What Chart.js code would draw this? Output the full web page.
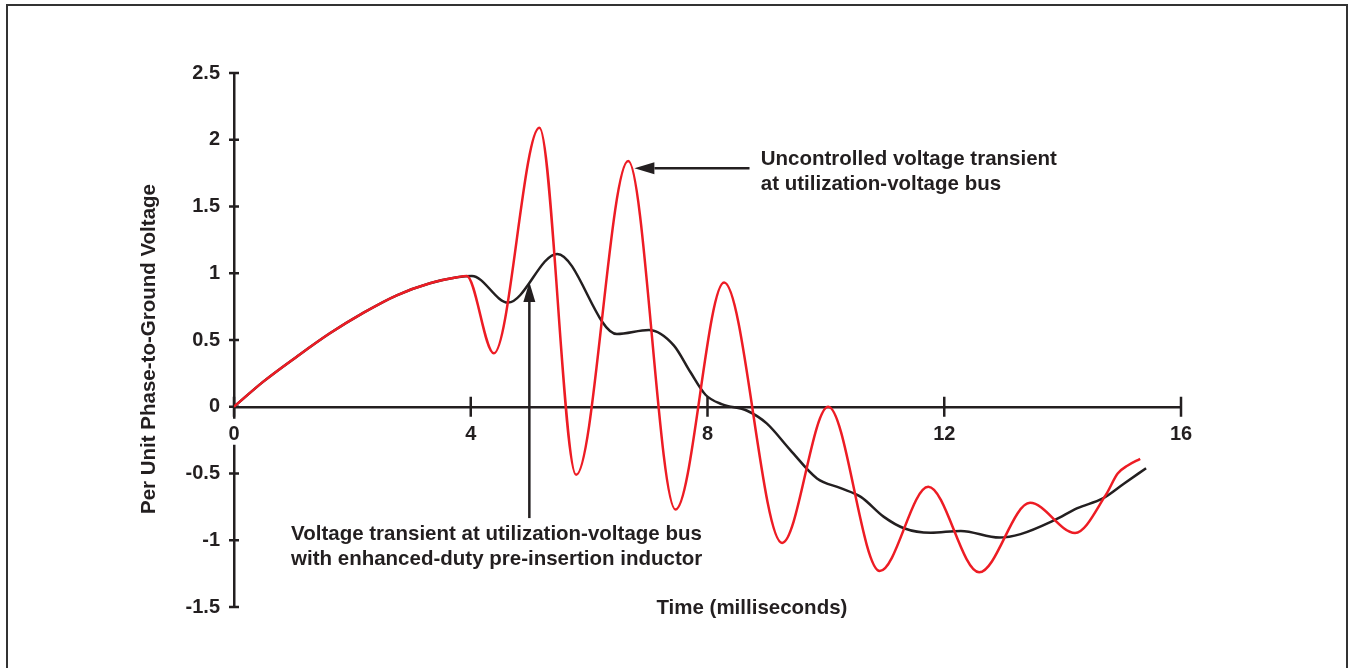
<!DOCTYPE html>
<html>
<head>
<meta charset="utf-8">
<title>Voltage transient</title>
<script src="https://cdn.jsdelivr.net/npm/chart.js@4.4.0/dist/chart.umd.min.js"></script>
<style>
  html, body { margin: 0; padding: 0; background: #fff; overflow: hidden; }
  .wrap { position: absolute; left: 0; top: 0; width: 1353px; height: 668px; }
  .frame { position: absolute; left: 6px; top: 4px; width: 1342px; height: 720px;
           border: 2.5px solid #333; box-sizing: border-box; }
</style>
</head>
<body>
<div class="frame"></div>
<div class="wrap"><canvas id="chart"></canvas></div>
<script>
// uncontrolled transient (red), time in ms / per unit voltage
const redTime  = [0, 0.5, 1.06, 1.62, 2.19, 2.75, 3.31, 3.77, 3.93, 4.39, 5.16, 5.78, 6.66, 7.46,
                  8.28, 9.26, 10.04, 10.91, 11.73, 12.59, 13.45, 14.21, 14.73, 14.93, 15.10, 15.31];
const redVolts = [0, 0.19, 0.375, 0.55, 0.705, 0.835, 0.925, 0.97, 0.98, 0.40, 2.09, -0.51, 1.84, -0.77,
                  0.93, -1.02, 0.0, -1.23, -0.60, -1.24, -0.72, -0.945, -0.66, -0.50, -0.44, -0.39];

// with enhanced-duty pre-insertion inductor (black)
const blackTime  = [0, 0.5, 1.06, 1.62, 2.19, 2.75, 3.31, 3.77, 4.02, 4.63, 5.46, 6.47, 7.01, 7.43,
                    7.71, 7.97, 8.25, 8.67, 9.0, 9.4, 9.85, 10.25, 10.59, 10.98, 11.32, 11.77,
                    12.28, 12.93, 13.29, 13.86, 14.25, 14.68, 15.04, 15.41];
const blackVolts = [0, 0.19, 0.375, 0.55, 0.705, 0.835, 0.925, 0.97, 0.98, 0.78, 1.145, 0.545, 0.575, 0.46,
                    0.26, 0.088, 0.018, -0.03, -0.125, -0.325, -0.537, -0.61, -0.675, -0.825, -0.91, -0.944,
                    -0.93, -0.98, -0.954, -0.85, -0.76, -0.687, -0.575, -0.46];

const xTicks = [0, 4, 8, 12, 16];
const yTicks = [-1.5, -1, -0.5, 0, 0.5, 1, 1.5, 2, 2.5];

// callouts (data coordinates)
const arrowFrom = [[8.71, 1.787], [4.99, -0.834]];
const arrowTo   = [[6.765, 1.787], [4.99, 0.935]];
const noteAt    = [[8.9, 1.81], [0.964, -1.0]];
const noteLines = [
  ['Uncontrolled voltage transient', 'at utilization-voltage bus'],
  ['Voltage transient at utilization-voltage bus', 'with enhanced-duty pre-insertion inductor']
];

const ink = '#231f20';
const fam = '"Liberation Sans", Arial, Helvetica, sans-serif';

const toPoints = (ts, vs) => ts.map((t, i) => ({ x: t, y: vs[i] }));

const extras = {
  id: 'extras',
  beforeDatasetsDraw(chart) {
    const { ctx, scales: { x, y } } = chart;
    const y0 = y.getPixelForValue(0);
    ctx.save();
    ctx.strokeStyle = ink;
    ctx.lineWidth = 2.5;
    ctx.beginPath();
    xTicks.forEach(v => {
      const px = x.getPixelForValue(v);
      ctx.moveTo(px, y0 - 10); ctx.lineTo(px, y0 + 10);
    });
    yTicks.forEach(v => {
      const py = y.getPixelForValue(v);
      ctx.moveTo(x.left - 5, py); ctx.lineTo(x.left + 5, py);
    });
    ctx.stroke();

    // the "0" under the origin sits on a white patch that breaks the y axis line
    const ox = x.getPixelForValue(0);
    ctx.fillStyle = '#fff';
    ctx.fillRect(ox - 9, y0 + 12, 18, 26);
    ctx.fillStyle = ink;
    ctx.font = 'bold 20px ' + fam;
    ctx.textAlign = 'center';
    ctx.textBaseline = 'middle';
    ctx.fillText('0', ox, y0 + 28);
    ctx.restore();
  },
  afterDraw(chart) {
    const { ctx, chartArea, scales: { x, y } } = chart;
    ctx.save();
    ctx.strokeStyle = ink;
    ctx.fillStyle = ink;
    ctx.lineWidth = 2.5;

    // arrows
    arrowFrom.forEach((from, i) => {
      const x1 = x.getPixelForValue(from[0]), y1 = y.getPixelForValue(from[1]);
      const x2 = x.getPixelForValue(arrowTo[i][0]), y2 = y.getPixelForValue(arrowTo[i][1]);
      const ang = Math.atan2(y2 - y1, x2 - x1);
      const hl = 20, hw = 6;
      const bx = x2 - hl * Math.cos(ang), by = y2 - hl * Math.sin(ang);
      ctx.beginPath();
      ctx.moveTo(x1, y1); ctx.lineTo(bx, by);
      ctx.stroke();
      ctx.beginPath();
      ctx.moveTo(x2, y2);
      ctx.lineTo(bx + hw * Math.sin(ang), by - hw * Math.cos(ang));
      ctx.lineTo(bx - hw * Math.sin(ang), by + hw * Math.cos(ang));
      ctx.closePath();
      ctx.fill();
    });

    // callout text
    ctx.font = 'bold 20.5px ' + fam;
    ctx.textAlign = 'left';
    ctx.textBaseline = 'alphabetic';
    noteLines.forEach((lines, i) => {
      const px = x.getPixelForValue(noteAt[i][0]);
      const py = y.getPixelForValue(noteAt[i][1]);
      lines.forEach((txt, j) => ctx.fillText(txt, px, py + j * 25));
    });

    // axis titles
    ctx.textAlign = 'center';
    ctx.fillText('Time (milliseconds)', x.getPixelForValue(8.75), chartArea.bottom + 7);
    ctx.translate(chartArea.left - 79, (chartArea.top + chartArea.bottom) / 2 + 9);
    ctx.rotate(-Math.PI / 2);
    ctx.fillText('Per Unit Phase-to-Ground Voltage', 0, 0);
    ctx.restore();
  }
};

new Chart(document.getElementById('chart'), {
  type: 'line',
  data: {
    datasets: [
      {
        label: 'Uncontrolled',
        data: toPoints(redTime, redVolts),
        borderColor: '#ed1c24',
        borderWidth: 2.5,
        pointRadius: 0,
        cubicInterpolationMode: 'monotone',
        fill: false
      },
      {
        label: 'Pre-insertion inductor',
        data: toPoints(blackTime, blackVolts),
        borderColor: ink,
        borderWidth: 2.5,
        pointRadius: 0,
        cubicInterpolationMode: 'monotone',
        fill: false
      }
    ]
  },
  options: {
    responsive: true,
    maintainAspectRatio: false,
    animation: false,
    layout: { padding: { top: 73, bottom: 61, right: 172, left: 0 } },
    plugins: { legend: { display: false }, tooltip: { enabled: false } },
    scales: {
      x: {
        type: 'linear',
        position: { y: 0 },
        min: 0,
        max: 16,
        afterBuildTicks: s => { s.ticks = xTicks.map(v => ({ value: v })); },
        grid: { display: true, drawOnChartArea: false, tickLength: 10, tickColor: 'transparent' },
        border: { display: true, color: ink, width: 2.5 },
        ticks: {
          autoSkip: false, maxRotation: 0, padding: 6, color: ink,
          font: { family: fam, size: 20, weight: 'bold' },
          callback: v => (v === 0 ? '' : String(v))
        }
      },
      y: {
        type: 'linear',
        position: 'left',
        min: -1.5,
        max: 2.5,
        afterFit: s => { s.width = 234; },
        afterBuildTicks: s => { s.ticks = yTicks.map(v => ({ value: v })); },
        grid: { display: true, drawOnChartArea: false, tickLength: 5, tickColor: 'transparent' },
        border: { display: true, color: ink, width: 2.5 },
        ticks: {
          autoSkip: false, padding: 9, color: ink,
          font: { family: fam, size: 20, weight: 'bold' },
          callback: v => String(v)
        }
      }
    }
  },
  plugins: [extras]
});
</script>
</body>
</html>
